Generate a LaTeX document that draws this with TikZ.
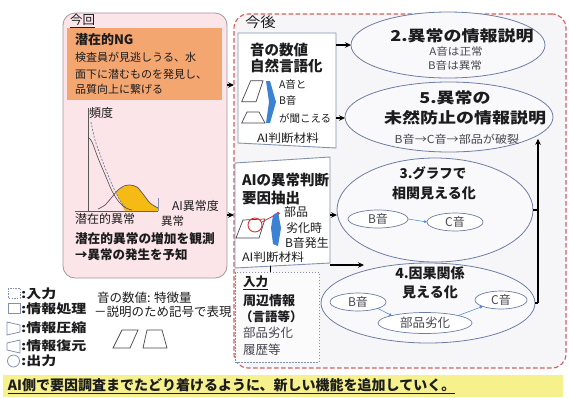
\documentclass[tikz,border=0pt]{standalone}
\usepackage{fontspec}
\setmainfont{Noto Sans CJK JP}
\newfontfamily\jpw[FakeStretch=1.2]{Noto Sans CJK JP}
\newfontfamily\jpx[FakeStretch=1.1]{Noto Sans CJK JP}
\usetikzlibrary{shapes.geometric,arrows.meta}
\newcommand\fz[2]{\fontsize{#1}{#2}\selectfont}
\definecolor{pinkf}{RGB}{251,229,233}
\definecolor{pinkd}{RGB}{165,150,158}
\definecolor{orng}{RGB}{243,166,112}
\definecolor{gold}{RGB}{245,186,20}
\definecolor{redd}{RGB}{214,95,95}
\definecolor{rbg}{RGB}{246,246,248}
\definecolor{ellf}{RGB}{249,249,251}
\definecolor{ellc}{RGB}{110,125,165}
\definecolor{boxc}{RGB}{130,145,175}
\definecolor{yel}{RGB}{246,241,140}
\definecolor{bluec}{RGB}{60,130,210}
\definecolor{redc}{RGB}{225,50,50}
\definecolor{txt}{RGB}{28,28,30}
\definecolor{gtx}{RGB}{70,70,80}
\begin{document}
\begin{tikzpicture}[x=1pt,y=-1pt,
  every node/.style={inner sep=0pt,outer sep=0pt,text=txt},
  tl/.style={anchor=west},
  arr/.style={-{Stealth[length=6pt,width=5.5pt]},line width=1.2pt,draw=black},
  ell/.style={ellipse,draw=ellc,line width=0.8pt,fill=ellf},
  sml/.style={ellipse,draw=ellc,line width=0.7pt,fill=white},
  sarr/.style={-{Stealth[length=3pt,width=3pt]},line width=0.5pt,draw=bluec},
  lgd/.style={draw=boxc,line width=0.8pt},
  pic/.style={draw=gtx,line width=0.7pt}
]
\useasboundingbox (0,0) rectangle (569,397);
\fill[white] (0,0) rectangle (569,397);

% ---------- left box ----------
\node[draw=pinkd,fill=pinkf,rounded corners=12pt,minimum width=164pt,minimum height=265pt,line width=0.8pt] (pink) at (145,145.5) {};
\node[fill=orng,minimum width=155pt,minimum height=72pt] (orange) at (144.5,64) {};
\node[tl] (konkai) at (70,21) {\fz{12.5}{14}\underline{今回}};
\node[tl] (ng) at (75,40) {\fz{13}{15}\bfseries 潜在的NG};
\node[tl] (o1) at (75,57) {\fz{11}{13}検査員が見逃しうる、水};
\node[tl] (o2) at (75,74) {\fz{11}{13}面下に潜むものを発見し、};
\node[tl] (o3) at (75,89) {\fz{11}{13}品質向上に繋げる};

% graph
\draw[line width=0.6pt,draw=gray!70!black] (88,108) -- (88,211);
\draw[line width=0.6pt,draw=gray!70!black] (75,211) -- (158,211);
\fill[gold] plot[smooth] coordinates {(116,193) (120,189) (125,186) (130,185) (137,187) (143,194) (150,203) (158,208)} -- (158,211) -- (125,211) -- (120,201) -- cycle;
\draw[line width=0.7pt,draw={rgb,255:red,95;green,80;blue,95}] plot[smooth] coordinates {(98,209) (105,205) (112,197) (118,190) (124,186) (130,185) (137,187) (143,194) (150,203) (158,208)};
\draw[line width=0.7pt,draw=ellc,dash pattern=on 2pt off 1.5pt] plot[smooth] coordinates {(91,122) (95,140) (101,157) (108,175) (115,191) (121,202) (127,209)};
\draw[line width=0.6pt,draw=gray!60!black] plot[smooth] coordinates {(88,137) (92,142) (98,158) (106,177) (112,191) (119,202) (126,208) (132,210)};
\draw[line width=0.7pt,draw=boxc] (158,198) -- (158,211);
\node[tl] (hindo) at (89,113) {\fz{12}{14}頻度};
\node[tl] (aido) at (172,206) {\fz{12}{14}AI異常度};
\node[tl] (ijo) at (161,221) {\fz{11.5}{13}異常};
\node[tl] (senzai) at (75,219) {\fz{12}{14}潜在的異常};
\node[tl] (kansoku) at (75,239) {\fz{12.7}{15}\bfseries 潜在的異常の増加を観測};
\node[tl] (yochi) at (75,255) {\fz{12.5}{15}\bfseries →異常の発生を予知};

% ---------- right box ----------
\node[draw=redd,fill=rbg,rounded corners=14pt,minimum width=332pt,minimum height=354pt,line width=1.1pt,dash pattern=on 4.5pt off 2.5pt] (future) at (400,191) {};
\node[tl] (kongo) at (245,22) {\jpx\fz{14}{16}今後};

% box 1
\coordinate (b1a) at (238,33);
\coordinate (b1b) at (336,33);
\coordinate (b1c) at (336,148);
\coordinate (b1d) at (238,143);
\draw[draw=boxc,fill=white,line width=0.9pt] (b1a) -- (b1b) -- (b1c) -- (b1d) -- cycle;
\node[tl] (t11) at (250,50) {\fz{14.5}{16}\bfseries 音の数値};
\node[tl] (t12) at (250,66) {\fz{14.5}{16}\bfseries 自然言語化};
\draw[pic] (250.7,80.7) -- (263,80.7) -- (256,101.7) -- (241.7,101.7) -- cycle;
\draw[pic] (247,112) -- (259,112) -- (265,123) -- (241.7,123) -- cycle;
\fill[bluec] (266,81) -- (270,81) -- (276,102) -- (270,123) -- (266,123) -- (269,102) -- cycle;
\node[tl] (t13) at (279,85) {\fz{10.5}{12}A音と};
\node[tl] (t14) at (279,101) {\fz{10.5}{12}B音};
\node[tl] (t15) at (279,118) {\fz{10.5}{12}が聞こえる};
\node (t16) at (288,138) {\jpx\fz{11.5}{13}AI判断材料};

% box 2
\coordinate (b2a) at (235,163);
\coordinate (b2b) at (330,157);
\coordinate (b2c) at (330,263);
\coordinate (b2d) at (235,268);
\draw[draw=boxc,fill=white,line width=0.9pt] (b2a) -- (b2b) -- (b2c) -- (b2d) -- cycle;
\node[tl] (t21) at (242,180) {\fz{14.5}{16}\bfseries AIの異常判断};
\node[tl] (t22) at (242,198) {\fz{14.5}{16}\bfseries 要因抽出};
\draw[pic] (243,220) -- (265,219) -- (259,238) -- (236,238) -- cycle;
\draw[redc,line width=0.9pt] (255,225) circle (7);
\draw[redc,line width=0.8pt] (262,222) -- (277,214);
\fill[redc] (278,213.5) circle (1.8);
\fill[bluec] (273,215) -- (278,212) -- (281,228) -- (278,246) -- (273,244) -- (271,228) -- cycle;
\node[tl] (t23) at (284,212) {\fz{12}{14}部品};
\node[tl] (t24) at (286,228) {\fz{12}{14}劣化時};
\node[tl] (t25) at (285,243) {\fz{12}{14}B音発生};
\node (t26) at (273,257) {\jpx\fz{11.5}{13}AI判断材料};

% input box
\node[draw=boxc,fill=white!60!rbg,line width=1pt,dash pattern=on 1.5pt off 1.5pt,minimum width=84pt,minimum height=90pt] (inp) at (277,317) {};
\node[tl] (i1) at (243,283) {\fz{12.5}{14}\bfseries\underline{入力}};
\node[tl] (i2) at (243,301) {\fz{13}{15}\bfseries 周辺情報};
\node[tl] (i3) at (240,317) {\fz{12.5}{14}\bfseries （言語等）};
\node[tl] (i4) at (243,333) {\fz{12.5}{14}\color{gtx}部品劣化};
\node[tl] (i5) at (243,350) {\fz{12.5}{14}\color{gtx}履歴等};

% ellipses
\node[ell,minimum width=194pt,minimum height=66pt] (E2) at (448,45) {};
\node (e2a) at (462,36) {\jpw\fz{15}{17}\bfseries 2.異常の情報説明};
\node (e2b) at (456,52) {\jpx\fz{10.5}{12}\color{gtx}A音は正常};
\node (e2c) at (455,66) {\jpx\fz{10.5}{12}\color{gtx}B音は異常};

\node[ell,minimum width=208pt,minimum height=70pt] (E5) at (449,117) {};
\node (e5a) at (455,98) {\jpw\fz{15}{17}\bfseries 5.異常の};
\node (e5b) at (465,118) {\jpw\fz{15}{17}\bfseries 未然防止の情報説明};
\node (e5c) at (457,139) {\jpx\fz{11}{13}\color{gtx}B音→C音→部品が破裂};

\node[ell,minimum width=196pt,minimum height=104pt] (E3) at (435,210) {};
\node (e3a) at (433,173) {\fz{13.5}{15}\bfseries 3.グラフで};
\node (e3b) at (434,193) {\fz{14}{16}\bfseries 相関見える化};
\node[sml,minimum width=60pt,minimum height=18pt] (EB3) at (378,219) {\fz{12}{13}\color{gtx}B音};
\node[sml,minimum width=56pt,minimum height=18pt] (EC3) at (455,222) {\fz{12}{13}\color{gtx}C音};
\draw[sarr] (EB3.east) -- (EC3.west);

\node[ell,minimum width=214pt,minimum height=80pt] (E4) at (428,303) {};
\node (e4a) at (430,273) {\fz{14}{16}\bfseries 4.因果関係};
\node (e4b) at (430,292) {\fz{14}{16}\bfseries 見える化};
\node[sml,minimum width=56pt,minimum height=18pt] (EB4) at (358,302) {\fz{12}{13}\color{gtx}B音};
\node[sml,minimum width=94pt,minimum height=21pt] (EP4) at (425,323) {\fz{12.5}{14}\color{gtx}部品劣化};
\node[sml,minimum width=52pt,minimum height=18pt] (EC4) at (501,300) {\fz{12}{13}\color{gtx}C音};
\draw[sarr] (EB4.south east) -- (EP4.north west);
\draw[sarr] (EP4.north east) -- (EC4.south west);

% connectors
\coordinate (fa) at (234,85);
\coordinate (fb) at (234,215);
\draw[arr] (pink.east |- fa) -- (fa);
\draw[arr] (pink.east |- fb) -- (fb);
\coordinate (b1r1) at (336,45);
\coordinate (b1r2) at (336,118);
\draw[arr] (b1r1) -- (E2.west);
\draw[arr] (b1r2) -- (b1r2 -| E5.west);
\coordinate (b2r1) at (330,215);
\coordinate (b2r2) at (330,265);
\coordinate (e4in) at (364,265);
\draw[arr] (b2r1) -- (b2r1 -| E3.west);
\draw[arr] (b2r2) -- (e4in);
\coordinate (b2bt) at (270,265.5);
\draw[line width=1pt] (b2bt) -- (b2bt |- inp.north);
\coordinate (rc) at (538,303);
\draw[line width=1.2pt] (E4.east) -- (rc);
\draw[line width=1.2pt] (E3.east) -- (E3.east -| rc);
\draw[arr] (rc) -- (rc |- E5.-15);

% ---------- legend ----------
\draw[lgd,dash pattern=on 1.5pt off 1.2pt] (8,288) rectangle (20,298);
\draw[lgd] (8,303) rectangle (20,313);
\draw[lgd] (7,322) -- (20,325) -- (20,332) -- (7,335) -- cycle;
\draw[lgd] (7,343) -- (20,340) -- (20,353) -- (7,350) -- cycle;
\draw[lgd] (13.5,361) circle (6);
\node[tl] (l1) at (21,294) {\jpw\fz{12.5}{14}\bfseries :入力};
\node[tl] (l2) at (21,309) {\jpw\fz{12.5}{14}\bfseries :情報処理};
\node[tl] (l3) at (21,328) {\jpw\fz{12.5}{14}\bfseries :情報圧縮};
\node[tl] (l4) at (21,346) {\jpw\fz{12.5}{14}\bfseries :情報復元};
\node[tl] (l5) at (21,361) {\jpw\fz{12.5}{14}\bfseries :出力};
\node[tl] (n1) at (97,298) {\fz{12.5}{14}音の数値: 特徴量};
\node[tl] (n2) at (94,312) {\fz{12.5}{14}－説明のため記号で表現};
\draw[pic] (113,348) -- (122,330) -- (138,330) -- (130,348) -- cycle;
\draw[pic] (147,330) -- (162,330) -- (167,348) -- (143,348) -- cycle;

% ---------- bottom bar ----------
\node[fill=yel,minimum width=560pt,minimum height=22pt] (bar) at (283,386) {};
\node[tl] (bartxt) at (8,386) {\fz{14}{16}\bfseries\underline{AI側で要因調査までたどり着けるように、新しい機能を追加していく。}};
\end{tikzpicture}
\end{document}
